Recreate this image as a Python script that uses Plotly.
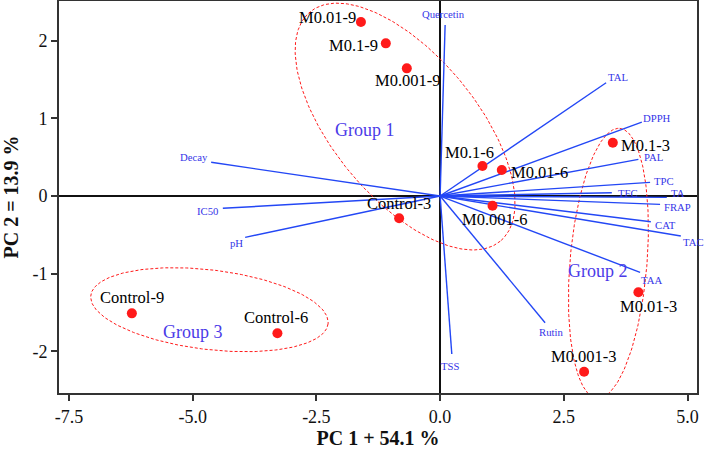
import numpy as np
import plotly.graph_objects as go

# ---------------- data ----------------
sample_names = ["M0.01-9", "M0.1-9", "M0.001-9", "M0.1-6", "M0.01-6", "M0.001-6",
                "Control-3", "M0.1-3", "M0.01-3", "M0.001-3", "Control-9", "Control-6"]
sample_pc1 = [-1.60, -1.097, -0.673, 0.855, 1.246, 1.059,
              -0.828, 3.489, 4.006, 2.909, -6.228, -3.287]
sample_pc2 = [2.24, 1.965, 1.643, 0.386, 0.335, -0.125,
              -0.287, 0.686, -1.239, -2.261, -1.510, -1.767]

var_names = ["Quercetin", "TAL", "DPPH", "PAL", "TPC", "TFC", "TA", "FRAP",
             "CAT", "TAC", "TAA", "Rutin", "TSS", "Decay", "IC50", "pH"]
load_pc1 = [0.101, 3.354, 4.075, 4.006, 4.242, 3.469, 4.580, 4.444,
            4.257, 4.863, 4.040, 2.121, 0.236, -4.626, -4.390, -3.939]
load_pc2 = [2.201, 1.458, 0.952, 0.472, 0.176, 0.042, -0.017, -0.107,
            -0.331, -0.515, -0.982, -1.631, -2.033, 0.434, -0.158, -0.532]

group_names = ["Group 1", "Group 2", "Group 3"]
group_x = [-1.521, 3.188, -4.984]
group_y = [0.849, -0.961, -1.746]

# ellipses: centre and two conjugate half-axis vectors (data units)
ell_cx = [-0.707, 3.40, -4.661]
ell_cy = [0.894, -0.866, -1.463]
ell_ax = [1.923, 0.228, 2.397]
ell_ay = [-1.475, 1.737, -0.183]
ell_bx = [-1.113, 0.775, -0.0958]
ell_by = [-0.589, -0.0413, -0.5086]

x_ticks = [-7.5, -5.0, -2.5, 0.0, 2.5, 5.0]
x_ticktext = ["-7.5", "-5.0", "-2.5", "0.0", "2.5", "5.0"]
y_ticks = [-2, -1, 0, 1, 2]
y_ticktext = ["-2", "-1", "0", "1", "2"]

# ---------------- label placement styles (pixel offsets: dx right, dy down) ----------------
sample_label_off = [(-33.5, -4), (-32, 2.4), (1.3, 11.7), (-12.8, -13.3), (37.8, 2), (2.3, 14),
                    (-0.2, -15), (32.7, 3), (10.2, 14), (0, -15), (0, -15.6), (-1, -15.6)]
var_label_off = [(-2, -11), (12.3, -5.4), (14.8, -3.7), (15.4, -2.6), (13.5, -1.3), (16, 0),
                 (10.8, -4), (17.7, 3), (14.8, 3.3), (13, 5.7), (11.7, 7.7), (5.8, 9),
                 (-1.4, 11.7), (-17.2, -5), (-14.9, 2.7), (-8.3, 5.4)]

FONT = "Liberation Serif, Times New Roman, serif"
LINE_BLUE = "#2347f5"
LABEL_BLUE = "#3535e8"
GROUP_BLUE = "#4b3be8"
RED = "#ff1a1a"

fig = go.Figure()

# ellipses
t = np.linspace(0, 2 * np.pi, 241)
for i in range(len(ell_cx)):
    ex = ell_cx[i] + ell_ax[i] * np.cos(t) + ell_bx[i] * np.sin(t)
    ey = ell_cy[i] + ell_ay[i] * np.cos(t) + ell_by[i] * np.sin(t)
    fig.add_trace(go.Scatter(x=ex, y=ey, mode="lines",
                             line=dict(color=RED, width=1, dash="3px,2px"),
                             hoverinfo="skip", showlegend=False))

# loading vectors
lx, ly = [], []
for x, y in zip(load_pc1, load_pc2):
    lx += [0, x, None]
    ly += [0, y, None]
fig.add_trace(go.Scatter(x=lx, y=ly, mode="lines",
                         line=dict(color=LINE_BLUE, width=1.4),
                         hoverinfo="skip", showlegend=False))

# sample points
fig.add_trace(go.Scatter(x=sample_pc1, y=sample_pc2, mode="markers",
                         marker=dict(color=RED, size=10),
                         showlegend=False, cliponaxis=False))

annotations = []
for name, x, y, (dx, dy) in zip(sample_names, sample_pc1, sample_pc2, sample_label_off):
    annotations.append(dict(x=x, y=y, text=name, showarrow=False, xanchor="center",
                            yanchor="middle", xshift=dx, yshift=-dy,
                            font=dict(family=FONT, size=16.5, color="black")))
for name, x, y, (dx, dy) in zip(var_names, load_pc1, load_pc2, var_label_off):
    annotations.append(dict(x=x, y=y, text=name, showarrow=False, xanchor="center",
                            yanchor="middle", xshift=dx, yshift=-dy,
                            font=dict(family=FONT, size=10.7, color=LABEL_BLUE)))
for name, x, y in zip(group_names, group_x, group_y):
    annotations.append(dict(x=x, y=y, text=name, showarrow=False, xanchor="center",
                            yanchor="middle",
                            font=dict(family=FONT, size=18, color=GROUP_BLUE)))

axis_common = dict(showline=True, mirror=True, linewidth=2, linecolor="#333333",
                   ticks="outside", ticklen=6, tickwidth=1.5, tickcolor="#333333",
                   showgrid=False, zeroline=True, zerolinecolor="#111111",
                   zerolinewidth=2, automargin=False,
                   tickfont=dict(family=FONT, size=18, color="#111111"))

fig.update_layout(
    width=705, height=449,
    margin=dict(l=59, r=8, t=1, b=56),
    plot_bgcolor="white", paper_bgcolor="white",
    annotations=annotations,
    xaxis=dict(range=[-7.7, 5.19], tickvals=x_ticks, ticktext=x_ticktext,
               title=dict(text="<b>PC 1 + 54.1 %</b>", standoff=6,
                          font=dict(family=FONT, size=20, color="#111111")),
               **axis_common),
    yaxis=dict(range=[-2.535, 2.51], tickvals=y_ticks, ticktext=y_ticktext,
               title=dict(text="<b>PC 2 = 13.9 %</b>", standoff=14,
                          font=dict(family=FONT, size=20, color="#111111")),
               **axis_common),
)

fig.write_html("out.html")
